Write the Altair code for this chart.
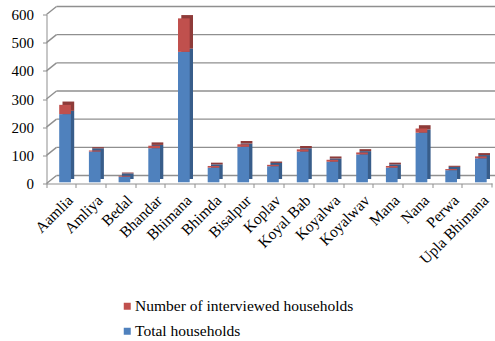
import altair as alt
import pandas as pd

villages = ["Aamlia", "Amliya", "Bedal", "Bhandar", "Bhimana", "Bhimda", "Bisalpur",
            "Koplav", "Koyal Bab", "Koyalwa", "Koyalwav", "Mana", "Nana", "Perwa",
            "Upla Bhimana"]
total_households = [242, 109, 20, 121, 463, 52, 126, 57, 109, 73, 99, 52, 176, 43, 85]
interviewed = [33, 4, 3, 9, 119, 6, 9, 5, 8, 7, 7, 6, 15, 4, 7]
y_ticks = [0, 100, 200, 300, 400, 500, 600]

S_INT = "Number of interviewed households"
S_TOT = "Total households"

rows = []
for v, t, i in zip(villages, total_households, interviewed):
    rows.append({"village": v, "series": S_TOT, "value": t, "ord": 0})
    rows.append({"village": v, "series": S_INT, "value": i, "ord": 1})
df = pd.DataFrame(rows)
ticks_df = pd.DataFrame({"v": y_ticks})

W, H = 445.5, 169
FONT = "Liberation Serif"
GRID = "#8f8f8f"

yscale = alt.Scale(domain=[0, 600], nice=False)
yaxis = alt.Axis(title=None, values=y_ticks, grid=False, labelFont=FONT,
                 labelFontSize=15, labelColor="#000000", tickSize=4,
                 tickColor=GRID, domainColor=GRID, labelPadding=9)
xscale = alt.Scale(paddingInner=0, paddingOuter=0)
xaxis = alt.Axis(title=None, labelAngle=-45, labelFont=FONT, labelFontSize=15.5,
                 labelColor="#000000", bandPosition=0, tickSize=4,
                 tickColor=GRID, domainColor=GRID, labelPadding=5,
                 labelOffset=4, grid=False)

# back-wall gridlines
grid = alt.Chart(ticks_df).mark_rule(color=GRID, strokeWidth=1.4, yOffset=-8).encode(
    x=alt.value(10), x2=alt.value(W + 3),
    y=alt.Y("v:Q", scale=yscale, axis=yaxis),
)
# left-wall receding lines
diag = alt.Chart(ticks_df).mark_rule(color=GRID, strokeWidth=1.4, y2Offset=-8).encode(
    x=alt.value(0), x2=alt.value(10),
    y=alt.Y("v:Q", scale=yscale, axis=yaxis),
    y2="v:Q",
)

depth = alt.Chart(df).mark_bar(width=11.7, xOffset=3.7 + 3.3, x2Offset=3.7 + 3.3,
                               yOffset=-1.2 - 3.3, y2Offset=-1.2 - 3.3).encode(
    x=alt.X("village:N", sort=villages, scale=xscale, axis=xaxis),
    y=alt.Y("value:Q", stack="zero", scale=yscale, axis=yaxis),
    color=alt.Color("series:N", scale=alt.Scale(domain=[S_INT, S_TOT],
                                                range=["#8E3B39", "#385D8A"]),
                    legend=None),
    order=alt.Order("ord:Q"),
)

front = alt.Chart(df).mark_bar(width=11.7, xOffset=3.7, x2Offset=3.7,
                               yOffset=-1.2, y2Offset=-1.2).encode(
    x=alt.X("village:N", sort=villages, scale=xscale, axis=xaxis),
    y=alt.Y("value:Q", stack="zero", scale=yscale, axis=yaxis),
    color=alt.Color("series:N",
                    scale=alt.Scale(domain=[S_INT, S_TOT], range=["#C0504D", "#4F81BD"]),
                    legend=alt.Legend(title=None, orient="none", legendX=73, legendY=284,
                                      symbolType="square", symbolSize=49,
                                      symbolStrokeWidth=0, symbolOpacity=1,
                                      labelFont=FONT, labelFontSize=15.5,
                                      labelColor="#000000", rowPadding=8,
                                      labelOffset=0, labelLimit=0)),
    order=alt.Order("ord:Q"),
)

end_tick = alt.Chart(ticks_df.head(1)).mark_rule(color=GRID).encode(
    x=alt.value(W), y=alt.value(H), y2=alt.value(H + 4)
)

chart = alt.layer(grid, diag, depth, front, end_tick).resolve_scale(
    color="independent"
).properties(
    width=W, height=H,
    autosize=alt.AutoSizeParams(type="none"),
    padding={"left": 46.5, "top": 14.5, "right": 3, "bottom": 157.5},
).configure(background="white", font=FONT).configure_view(stroke=None).configure_axis(
    labelFont=FONT
).configure_legend(labelFont=FONT)

chart.save("out.html", embed_options={"renderer": "svg", "actions": False})
